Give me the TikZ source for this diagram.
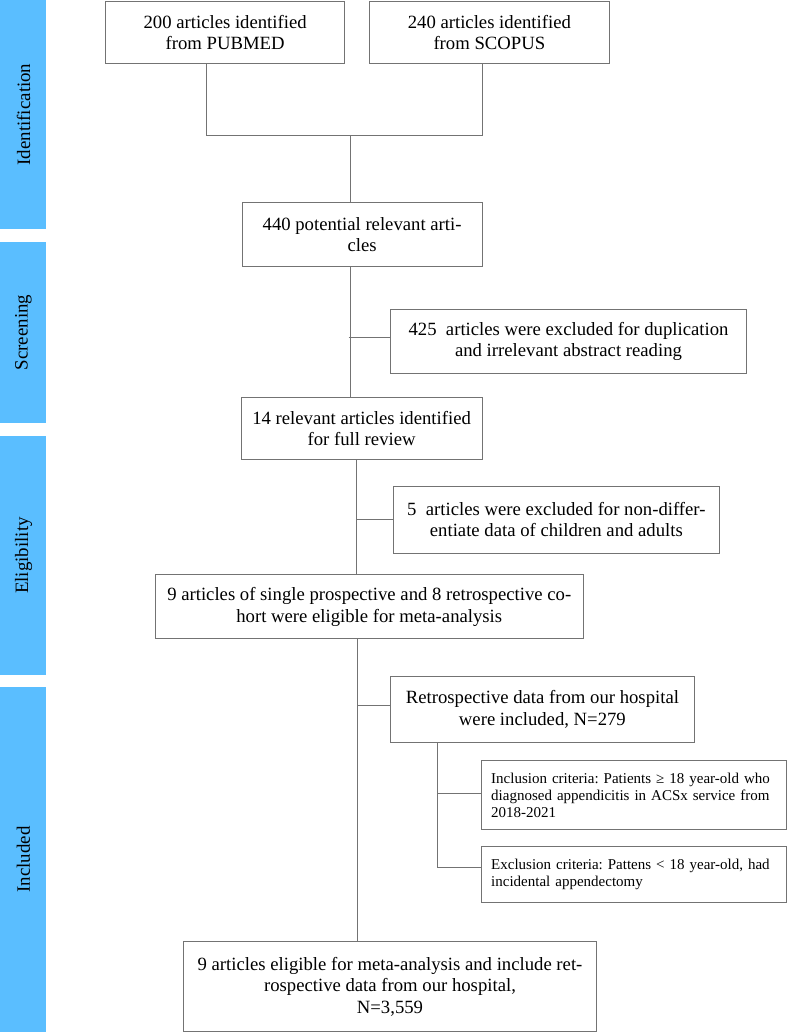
\documentclass[tikz,border=0pt]{standalone}
\usepackage{fontspec}
\setmainfont{Liberation Serif}
\usetikzlibrary{calc}
\definecolor{barblue}{RGB}{90,190,255}
\definecolor{linegray}{RGB}{115,115,115}
\begin{document}
\frenchspacing
\begin{tikzpicture}[x=1pt,y=-1pt,
  bar/.style={fill=barblue,draw=none},
  barlabel/.style={rotate=90,inner sep=0pt,font=\fontsize{18.9}{21}\selectfont},
  box/.style={draw=linegray,line width=1pt,anchor=north west,inner sep=0pt,align=center,font=\fontsize{18.7}{21.5}\selectfont},
  critbox/.style={draw=linegray,line width=1pt,anchor=north west,inner xsep=9.4pt,inner ysep=0pt,align=left,text width=286pt,font=\fontsize{15}{17.2}\selectfont},
  conn/.style={draw=linegray,line width=1pt}]
\useasboundingbox (0,0) rectangle (787,1032);
% side bars
\path[bar] (0,0) rectangle (46,229);
\path[bar] (0,242) rectangle (46,423);
\path[bar] (0,436) rectangle (46,675);
\path[bar] (0,687) rectangle (46,1032);
\node[barlabel] (lid) at (23.5,114.5) {Identification};
\node[barlabel] (lsc) at (23.5,332.5) {Screening};
\node[barlabel] (lel) at (23.5,555.5) {Eligibility};
\node[barlabel] (lin) at (23.5,859.5) {Included};
% boxes
\node[box,minimum width=239.3pt,minimum height=62.3pt] (b1) at (105,1) {200 articles identified\\from PUBMED};
\node[box,minimum width=239.7pt,minimum height=62.3pt] (b2) at (369,1) {240 articles identified\\from SCOPUS};
\node[box,minimum width=239.8pt,minimum height=63.4pt] (b3) at (241.7,202.3) {440 potential relevant arti-\\cles};
\node[box,minimum width=356pt,minimum height=63.4pt] (ex1) at (390,309.3) {425\ \ articles were excluded for duplication\\and irrelevant abstract reading};
\node[box,minimum width=241pt,minimum height=62.6pt] (b4) at (240.6,396.7) {14 relevant articles identified\\for full review};
\node[box,minimum width=326.3pt,minimum height=67pt] (ex2) at (392.7,485.5) {5\ \ articles were excluded for non-differ-\\entiate data of children and adults};
\node[box,minimum width=427.5pt,minimum height=64pt] (b5) at (155,574.3) {9 articles of single prospective and 8 retrospective co-\\hort were eligible for meta-analysis};
\node[box,minimum width=304.8pt,minimum height=66pt] (b6) at (389.5,676) {Retrospective data from our hospital\\were included, N=279};
\node[critbox,minimum height=69.3pt] (inc) at (481.3,760) {Inclusion criteria: Patients ≥ 18 year-old who\\diagnosed appendicitis in ACSx service from\\2018-2021};
\node[critbox,minimum height=55.5pt] (exc) at (481.3,846) {Exclusion criteria: Pattens < 18 year-old, had\\incidental appendectomy};
\node[box,minimum width=412.4pt,minimum height=90pt] (b7) at (183.3,941) {9 articles eligible for meta-analysis and include ret-\\rospective data from our hospital,\\N=3,559};
% junction coordinates
\coordinate (jl) at (206.7,136);
\coordinate (jr) at (482.3,136);
\coordinate (jm) at (350.7,136);
\coordinate (k1) at (348.5,337.5);
\coordinate (m2) at (356,519);
\coordinate (m3) at (357,705.5);
\coordinate (n1) at (437.5,793.5);
\coordinate (n2) at (437.5,867.5);
% connectors
\draw[conn] (b1.south -| jl) -- (jl) -- (jr) -- (b2.south -| jr);
\draw[conn] (jm) -- (b3.north -| jm);
\draw[conn] (b3.south -| jm) -- (b4.north -| jm);
\draw[conn] (k1) -- (k1 -| ex1.west);
\draw[conn] (b4.south -| m2) -- (b5.north -| m2);
\draw[conn] (m2) -- (m2 -| ex2.west);
\draw[conn] (b5.south -| m3) -- (b7.north -| m3);
\draw[conn] (m3) -- (m3 -| b6.west);
\draw[conn] (b6.south -| n1) -- (n2);
\draw[conn] (n1) -- (n1 -| inc.west);
\draw[conn] (n2) -- (n2 -| exc.west);
\end{tikzpicture}
\end{document}
